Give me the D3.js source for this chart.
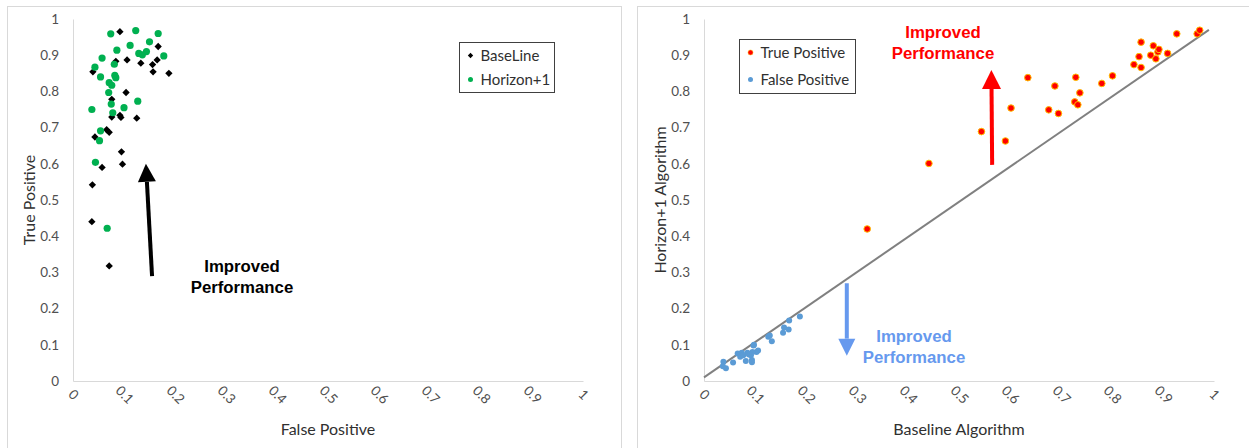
<!DOCTYPE html>
<html>
<head>
<meta charset="utf-8">
<script src="https://cdn.jsdelivr.net/npm/d3@7"></script>
<style>
  body { margin: 0; background: #fff; }
  svg { display: block; }
  .tick text { font-family: Lato, "Open Sans", sans-serif; font-size: 13.5px; fill: #505050; }
</style>
</head>
<body>
<svg id="chart" width="1249" height="448"></svg>
<script>
// values
const ticks = [0, 0.1, 0.2, 0.3, 0.4, 0.5, 0.6, 0.7, 0.8, 0.9, 1];

// left chart: [false positive, true positive]
const baseLine = [
  [0.092, 0.965], [0.167, 0.924], [0.084, 0.883], [0.106, 0.887], [0.133, 0.878],
  [0.156, 0.874], [0.165, 0.887], [0.157, 0.854], [0.188, 0.850], [0.039, 0.854],
  [0.104, 0.797], [0.076, 0.778], [0.076, 0.729], [0.092, 0.734], [0.094, 0.728],
  [0.125, 0.726], [0.066, 0.694], [0.071, 0.687], [0.043, 0.674], [0.095, 0.633],
  [0.057, 0.590], [0.097, 0.599], [0.038, 0.542], [0.037, 0.440], [0.071, 0.318]
];
const horizon = [
  [0.074, 0.959], [0.123, 0.968], [0.167, 0.960], [0.112, 0.927], [0.150, 0.937],
  [0.086, 0.914], [0.129, 0.905], [0.136, 0.901], [0.144, 0.910], [0.178, 0.898],
  [0.057, 0.892], [0.081, 0.875], [0.043, 0.867], [0.054, 0.840], [0.082, 0.844],
  [0.084, 0.838], [0.071, 0.824], [0.076, 0.817], [0.070, 0.797], [0.127, 0.773],
  [0.075, 0.765], [0.100, 0.755], [0.037, 0.750], [0.078, 0.741], [0.054, 0.691],
  [0.052, 0.664], [0.044, 0.604], [0.067, 0.422]
];

// right chart: [baseline, horizon+1]
const truePositive = [
  [0.320, 0.420], [0.441, 0.601], [0.544, 0.689], [0.591, 0.663], [0.602, 0.754],
  [0.635, 0.838], [0.676, 0.749], [0.695, 0.739], [0.688, 0.815], [0.729, 0.839],
  [0.737, 0.796], [0.727, 0.771], [0.733, 0.763], [0.780, 0.822], [0.801, 0.843],
  [0.843, 0.874], [0.857, 0.866], [0.853, 0.896], [0.857, 0.936], [0.881, 0.926],
  [0.876, 0.900], [0.886, 0.890], [0.890, 0.909], [0.892, 0.916], [0.909, 0.905],
  [0.927, 0.959], [0.967, 0.959], [0.972, 0.969]
];
const falsePositive = [
  [0.188, 0.178], [0.167, 0.167], [0.157, 0.148], [0.166, 0.142], [0.155, 0.133],
  [0.126, 0.122], [0.129, 0.126], [0.133, 0.110], [0.097, 0.098], [0.106, 0.084],
  [0.103, 0.080], [0.095, 0.080], [0.085, 0.078], [0.074, 0.078], [0.066, 0.076],
  [0.071, 0.067], [0.077, 0.071], [0.092, 0.071], [0.094, 0.058], [0.082, 0.055],
  [0.094, 0.052], [0.057, 0.051], [0.038, 0.053], [0.037, 0.041], [0.043, 0.035],
  [0.088, 0.073], [0.098, 0.100]
];
const trendLine = [[0, 0.01], [0.99, 0.97]];

const svg = d3.select('#chart');
const fmt = d => d3.format('')(+d.toFixed(1));

// panel frames
svg.append('rect').attr('x', 7.5).attr('y', 6.5).attr('width', 614).attr('height', 460)
  .attr('fill', 'none').attr('stroke', '#d9d9d9');
svg.append('rect').attr('x', 637.5).attr('y', 6.5).attr('width', 640).attr('height', 460)
  .attr('fill', 'none').attr('stroke', '#d9d9d9');

function drawAxes(x, y, xTitle, yTitle, yTitleX) {
  const gx = svg.append('g').attr('transform', `translate(0,${y(0)})`)
    .call(d3.axisBottom(x).tickValues(ticks).tickFormat(fmt).tickSize(0).tickSizeOuter(0));
  gx.select('.domain').attr('stroke', '#d9d9d9');
  gx.selectAll('.tick text')
    .attr('text-anchor', 'middle')
    .attr('dy', 0)
    .attr('transform', 'translate(-1,15) rotate(45)');

  const gy = svg.append('g').attr('transform', `translate(${x(0)},0)`)
    .call(d3.axisLeft(y).tickValues(ticks).tickFormat(fmt).tickSize(0).tickSizeOuter(0));
  gy.select('.domain').attr('stroke', '#d9d9d9');
  gy.selectAll('.tick text').attr('x', -14);

  svg.append('text')
    .attr('x', (x(0) + x(1)) / 2).attr('y', 435)
    .attr('text-anchor', 'middle')
    .style('font-family', 'Lato, sans-serif').style('font-size', '16px').style('fill', '#303030')
    .text(xTitle);
  svg.append('text')
    .attr('transform', `translate(${yTitleX},${(y(0) + y(1)) / 2}) rotate(-90)`)
    .attr('text-anchor', 'middle')
    .style('font-family', 'Lato, sans-serif').style('font-size', '16px').style('fill', '#303030')
    .text(yTitle);
}

function arrow(x1, y1, x2, y2, color, head) {
  const ang = Math.atan2(y2 - y1, x2 - x1);
  const bx = x2 - Math.cos(ang) * head, by = y2 - Math.sin(ang) * head;
  const px = -Math.sin(ang) * head / 2, py = Math.cos(ang) * head / 2;
  svg.append('line').attr('x1', x1).attr('y1', y1).attr('x2', bx).attr('y2', by)
    .attr('stroke', color).attr('stroke-width', 4);
  svg.append('path')
    .attr('d', `M${x2},${y2}L${bx + px},${by + py}L${bx - px},${by - py}Z`)
    .attr('fill', color);
}

function label2(cx, y, lines, color) {
  lines.forEach((t, i) => {
    svg.append('text')
      .attr('x', cx).attr('y', y + i * 21)
      .attr('text-anchor', 'middle')
      .style('font-family', '"Liberation Sans", Arial, sans-serif')
      .style('font-size', '16.8px').style('font-weight', 'bold')
      .style('fill', color)
      .text(t);
  });
}

// ---------- left chart ----------
const xL = d3.scaleLinear().domain([0, 1]).range([73, 583]);
const yL = d3.scaleLinear().domain([0, 1]).range([381, 19]);
drawAxes(xL, yL, 'False Positive', 'True Positive', 35);

const diamond = d3.symbol().type(d3.symbolDiamond2).size(34);
svg.append('g').selectAll('path').data(baseLine).enter().append('path')
  .attr('d', diamond)
  .attr('transform', d => `translate(${xL(d[0])},${yL(d[1])})`)
  .attr('fill', '#000');

svg.append('g').selectAll('circle').data(horizon).enter().append('circle')
  .attr('cx', d => xL(d[0])).attr('cy', d => yL(d[1])).attr('r', 3.6)
  .attr('fill', '#00b050');

arrow(xL(0.155), yL(0.29), xL(0.143), yL(0.60), '#000', 18);
label2(242, 272, ['Improved', 'Performance'], '#000');

// legend left
const legL = svg.append('g').attr('transform', 'translate(459.5,42.5)');
legL.append('rect').attr('width', 95).attr('height', 50).attr('fill', '#fff').attr('stroke', '#404040');
legL.append('path').attr('d', d3.symbol().type(d3.symbolDiamond2).size(18))
  .attr('transform', 'translate(11,13)').attr('fill', '#000');
legL.append('circle').attr('cx', 11).attr('cy', 37).attr('r', 2.5).attr('fill', '#00b050');
legL.selectAll('text.lg').data(['BaseLine', 'Horizon+1']).enter().append('text')
  .attr('x', 21).attr('y', (d, i) => 18 + i * 24)
  .style('font-family', 'Lato, sans-serif').style('font-size', '15px').style('fill', '#303030')
  .text(d => d);

// ---------- right chart ----------
const xR = d3.scaleLinear().domain([0, 1]).range([704, 1214]);
const yR = d3.scaleLinear().domain([0, 1]).range([381, 19]);
drawAxes(xR, yR, 'Baseline Algorithm', 'Horizon+1 Algorithm', 666);

svg.append('path')
  .attr('d', d3.line().x(d => xR(d[0])).y(d => yR(d[1]))(trendLine))
  .attr('stroke', '#808080').attr('stroke-width', 2).attr('fill', 'none');

svg.append('g').selectAll('circle').data(falsePositive).enter().append('circle')
  .attr('cx', d => xR(d[0])).attr('cy', d => yR(d[1])).attr('r', 3)
  .attr('fill', '#5b9bd5');

svg.append('g').selectAll('circle').data(truePositive).enter().append('circle')
  .attr('cx', d => xR(d[0])).attr('cy', d => yR(d[1])).attr('r', 3.3)
  .attr('fill', '#ff0000').attr('stroke', '#ffc000').attr('stroke-width', 1);

arrow(xR(0.565), yR(0.597), xR(0.5635), yR(0.859), '#ff0000', 19);
label2(943, 38, ['Improved', 'Performance'], '#ff0000');

arrow(xR(0.28), yR(0.27), xR(0.28), yR(0.07), '#6699ee', 17);
label2(914, 342, ['Improved', 'Performance'], '#6699ee');

// legend right
const legR = svg.append('g').attr('transform', 'translate(739.5,39.5)');
legR.append('rect').attr('width', 116).attr('height', 54).attr('fill', '#fff').attr('stroke', '#404040');
legR.append('circle').attr('cx', 11).attr('cy', 13).attr('r', 2.5).attr('fill', '#ff0000').attr('stroke', '#ffc000').attr('stroke-width', 0.5);
legR.append('circle').attr('cx', 11).attr('cy', 40).attr('r', 2.5).attr('fill', '#5b9bd5');
legR.selectAll('text.lg').data(['True Positive', 'False Positive']).enter().append('text')
  .attr('x', 21).attr('y', (d, i) => 18 + i * 27)
  .style('font-family', 'Lato, sans-serif').style('font-size', '15px').style('fill', '#303030')
  .text(d => d);
</script>
</body>
</html>
